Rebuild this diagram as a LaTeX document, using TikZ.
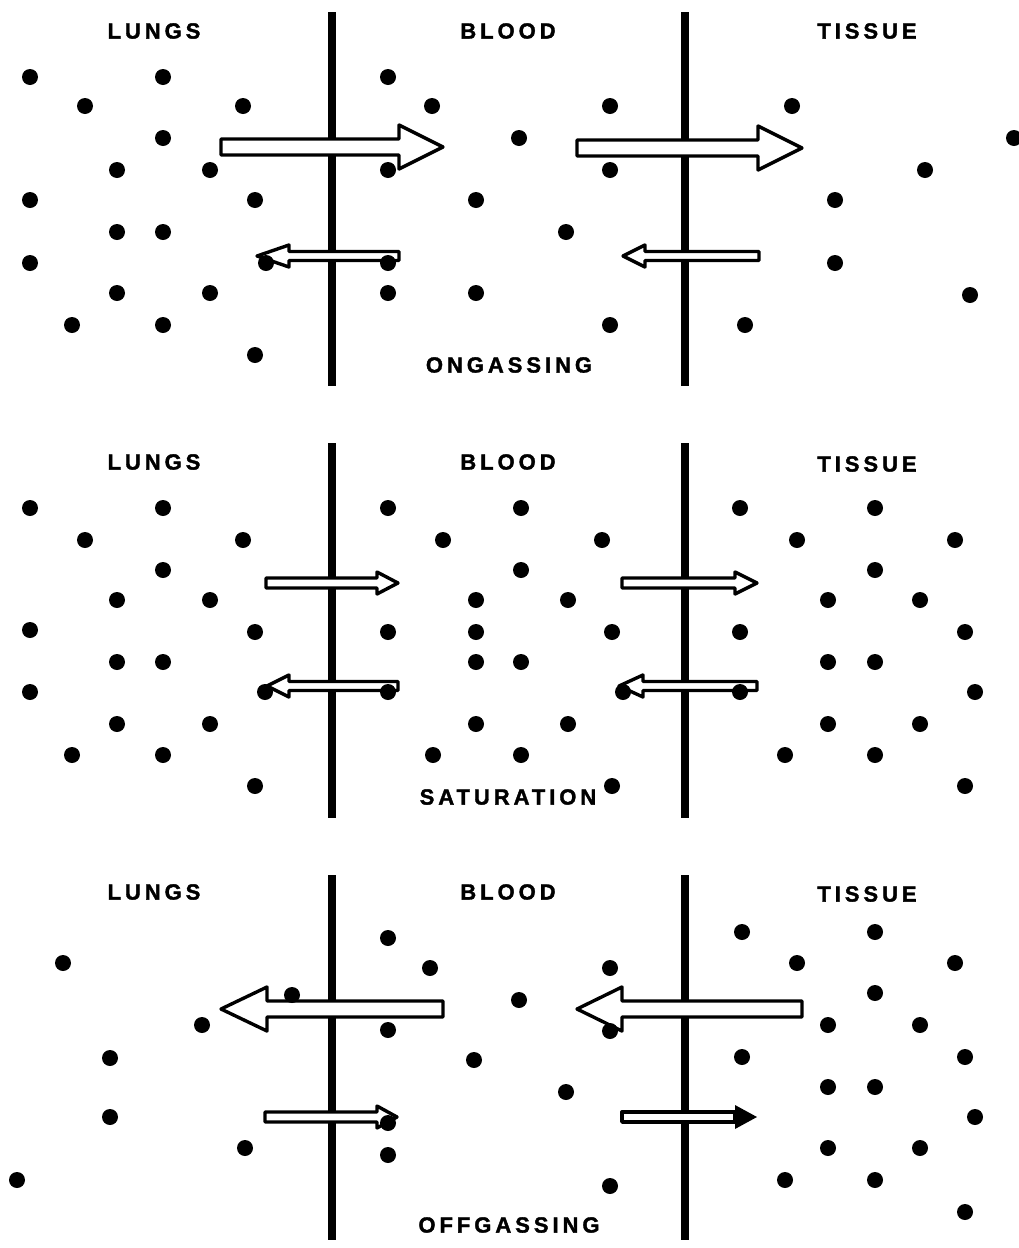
\documentclass[tikz,border=0pt]{standalone}
\usepackage{fontspec}
\newfontfamily\labelfont[LetterSpace=18, FakeBold=1.6]{Liberation Sans}
\usepackage{tikz}
\usetikzlibrary{calc}

% hollow block arrow: [style]{tail x}{head base x}{tip x}{y}{half shaft}{half head}
\newcommand{\gasarrow}[7][]{%
  \draw[hollowarrow,#1] ({#2},{#5-#6}) -- ({#3},{#5-#6}) -- ({#3},{#5-#7})
    -- ({#4},{#5}) -- ({#3},{#5+#7}) -- ({#3},{#5+#6}) -- ({#2},{#5+#6}) -- cycle;}

\tikzset{
  membrane/.style={line width=8pt},
  molecule/.style={fill=black},
  hollowarrow/.style={draw, line width=3.4pt, fill=white, line join=round},
  region/.style={font=\labelfont\bfseries\fontsize{22}{26}\selectfont, inner sep=0pt},
}

\begin{document}
\begin{tikzpicture}[x=1pt, y=-1pt]

    \useasboundingbox (0,0) rectangle (1018,1248);

    % =================================================================
    % 1. MEMBRANES
    % =================================================================
    \coordinate (M1top) at (332,12);   \coordinate (M1bot) at (332,386);
    \coordinate (N1top) at (685,12);   \coordinate (N1bot) at (685,386);
    \coordinate (M2top) at (332,443);  \coordinate (M2bot) at (332,818);
    \coordinate (N2top) at (685,443);  \coordinate (N2bot) at (685,818);
    \coordinate (M3top) at (332,875);  \coordinate (M3bot) at (332,1240);
    \coordinate (N3top) at (685,875);  \coordinate (N3bot) at (685,1240);

    \draw[membrane] (M1top) -- (M1bot);
    \draw[membrane] (N1top) -- (N1bot);
    \draw[membrane] (M2top) -- (M2bot);
    \draw[membrane] (N2top) -- (N2bot);
    \draw[membrane] (M3top) -- (M3bot);
    \draw[membrane] (N3top) -- (N3bot);

    % =================================================================
    % 2. ARROWS (drawn over the membranes)
    % =================================================================
    % --- ongassing ---
    \gasarrow{221}{399}{443}{147}{8}{22}
    \gasarrow{577}{758}{802}{148}{8}{22}
    \gasarrow{399}{289}{257}{256}{4.5}{11}
    \gasarrow{759}{645}{623}{256}{4.5}{11}

    % --- saturation ---
    \gasarrow{266}{377}{398}{583}{5}{11}
    \gasarrow{622}{735}{757}{583}{5}{11}
    \gasarrow{398}{289}{267}{686}{4.5}{11}
    \gasarrow{757}{643}{619}{686}{4.5}{11}

    % --- offgassing ---
    \gasarrow{443}{267}{221}{1009}{8}{22}
    \gasarrow{802}{622}{577}{1009}{8}{22}
    \gasarrow{265}{377}{397}{1117}{5}{11}
    \draw[hollowarrow] (622,1112) rectangle (735,1122);
    \fill (735,1105) -- (757,1117) -- (735,1129) -- cycle;

    % =================================================================
    % 3. GAS MOLECULES
    % =================================================================
    % --- ongassing ---
    \foreach \x/\y in {30/77, 163/77, 85/106, 243/106, 163/138, 117/170, 210/170,
        30/200, 255/200, 117/232, 163/232, 30/263, 266/263, 117/293, 210/293,
        72/325, 163/325, 255/355}
        \fill[molecule] (\x,\y) circle (8pt);
    \foreach \x/\y in {388/77, 432/106, 610/106, 519/138, 388/170, 610/170,
        476/200, 566/232, 388/263, 388/293, 476/293, 610/325}
        \fill[molecule] (\x,\y) circle (8pt);
    \foreach \x/\y in {792/106, 1014/138, 925/170, 835/200, 835/263, 970/295, 745/325}
        \fill[molecule] (\x,\y) circle (8pt);

    % --- saturation ---
    \foreach \x/\y in {30/508, 163/508, 85/540, 243/540, 163/570, 117/600, 210/600,
        30/630, 255/632, 117/662, 163/662, 30/692, 265/692, 117/724, 210/724,
        72/755, 163/755, 255/786}
        \fill[molecule] (\x,\y) circle (8pt);
    \foreach \x/\y in {388/508, 521/508, 443/540, 602/540, 521/570, 476/600, 568/600,
        388/632, 476/632, 612/632, 476/662, 521/662, 388/692, 623/692,
        476/724, 568/724, 433/755, 521/755, 612/786}
        \fill[molecule] (\x,\y) circle (8pt);
    \foreach \x/\y in {740/508, 875/508, 797/540, 955/540, 875/570, 828/600, 920/600,
        740/632, 965/632, 828/662, 875/662, 740/692, 975/692, 828/724, 920/724,
        785/755, 875/755, 965/786}
        \fill[molecule] (\x,\y) circle (8pt);

    % --- offgassing ---
    \foreach \x/\y in {63/963, 292/995, 202/1025, 110/1058, 110/1117, 245/1148, 17/1180}
        \fill[molecule] (\x,\y) circle (8pt);
    \foreach \x/\y in {388/938, 430/968, 610/968, 519/1000, 388/1030, 610/1031,
        474/1060, 566/1092, 388/1123, 388/1155, 610/1186}
        \fill[molecule] (\x,\y) circle (8pt);
    \foreach \x/\y in {742/932, 875/932, 797/963, 955/963, 875/993, 828/1025, 920/1025,
        742/1057, 965/1057, 828/1087, 875/1087, 975/1117, 828/1148, 920/1148,
        785/1180, 875/1180, 965/1212}
        \fill[molecule] (\x,\y) circle (8pt);

    % =================================================================
    % 4. LABELS
    % =================================================================
    \node[region] (lungsA)  at (154,31)  {LUNGS};
    \node[region] (bloodA)  at (508,31)  {BLOOD};
    \node[region] (tissueA) at (867,31)  {TISSUE};
    \node[region] (stageA)  at (509,365) {ONGASSING};

    \node[region] (lungsB)  at (154,462) {LUNGS};
    \node[region] (bloodB)  at (508,462) {BLOOD};
    \node[region] (tissueB) at (867,464) {TISSUE};
    \node[region] (stageB)  at (508,797) {SATURATION};

    \node[region] (lungsC)  at (154,892) {LUNGS};
    \node[region] (bloodC)  at (508,892) {BLOOD};
    \node[region] (tissueC) at (867,894) {TISSUE};
    \node[region] (stageC)  at (509,1225) {OFFGASSING};

\end{tikzpicture}
\end{document}
